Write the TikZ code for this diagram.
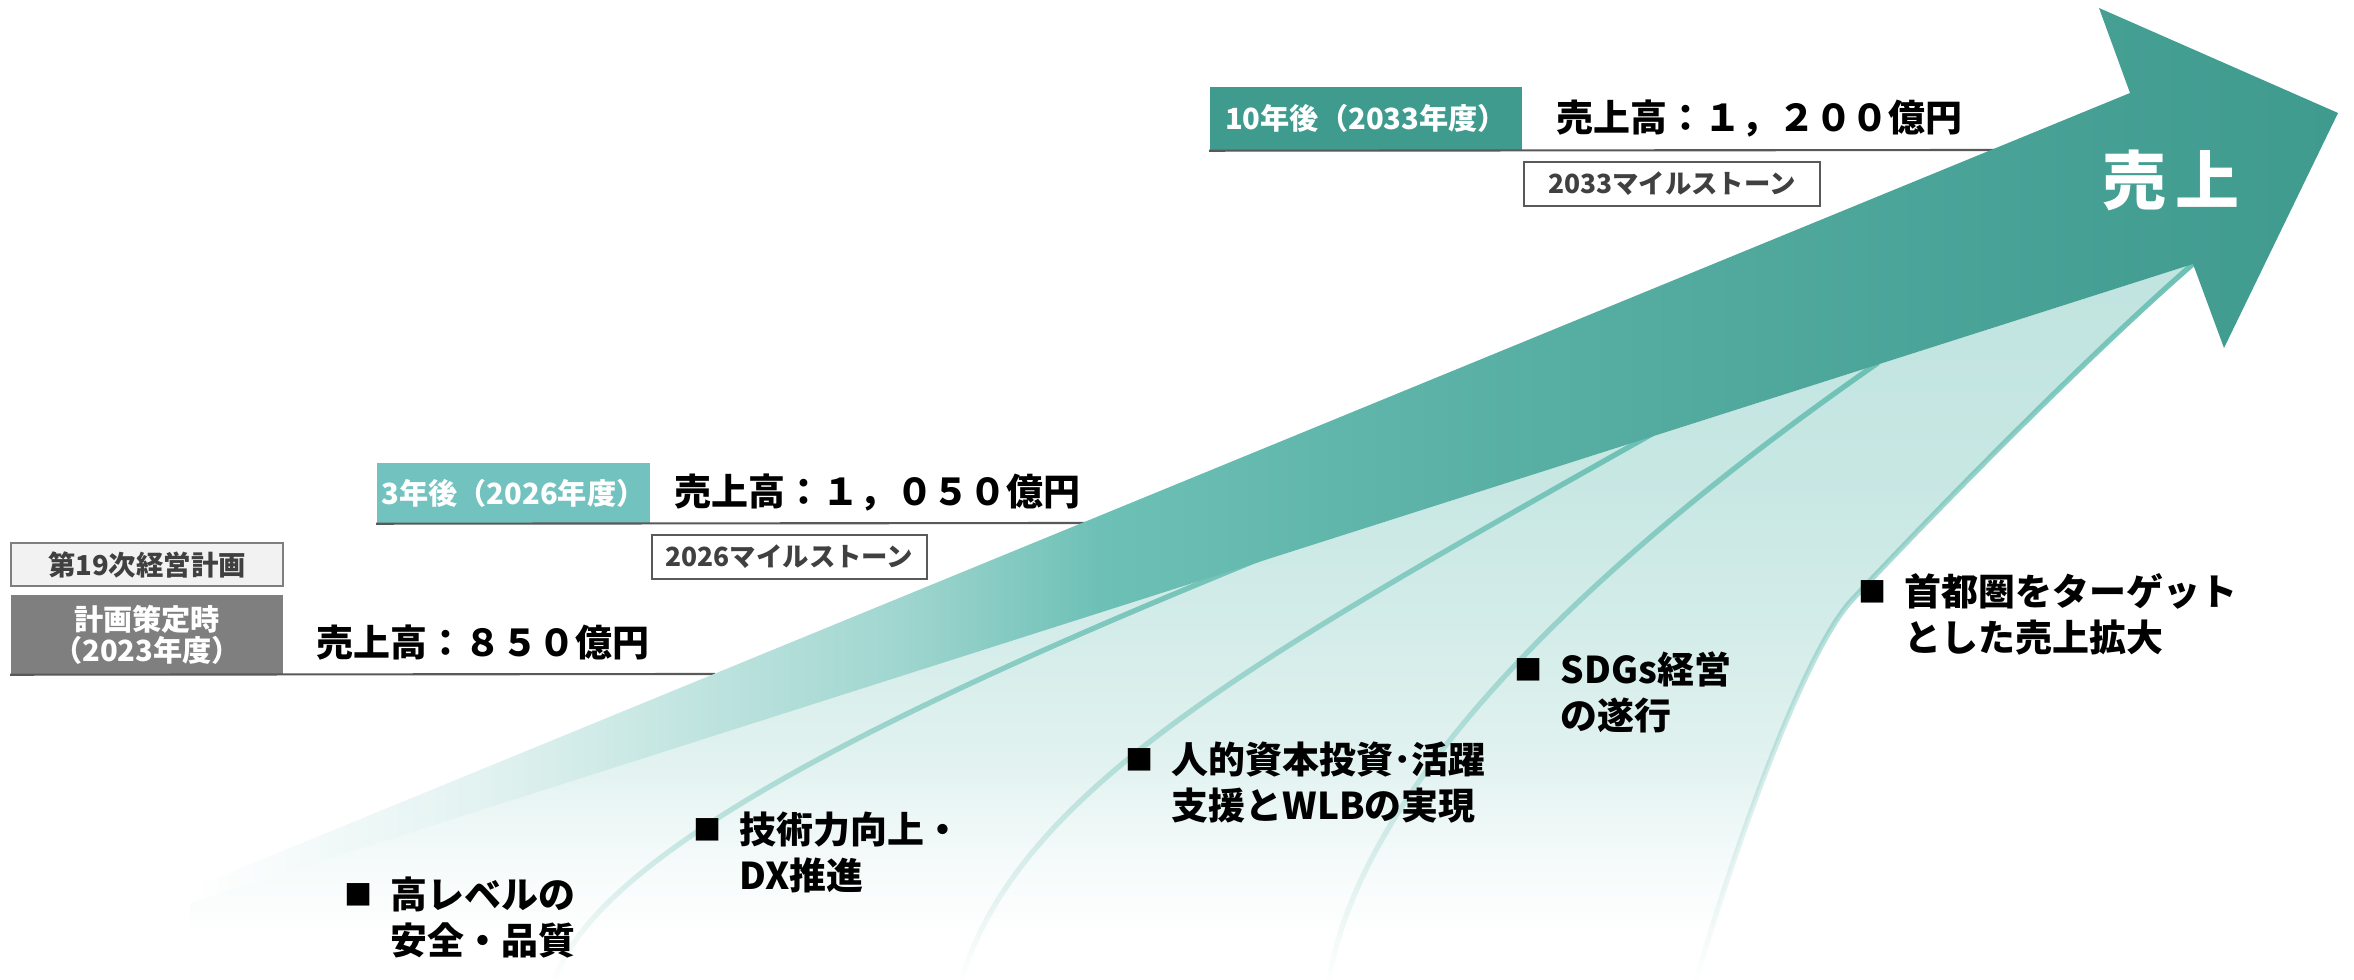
\documentclass[tikz,border=0pt]{standalone}
\usepackage{fontspec}
\setmainfont{Noto Sans CJK JP}
\usetikzlibrary{fadings}

\definecolor{tealdark}{HTML}{409B8F}
\definecolor{tealmid}{HTML}{6DC0B6}
\definecolor{teallight}{HTML}{72C2C0}
\definecolor{fanline}{HTML}{6CC0B5}
\definecolor{rulegray}{HTML}{595959}
\definecolor{textgray}{HTML}{404040}
\definecolor{boxgray}{HTML}{7F7F7F}
\definecolor{boxlight}{HTML}{F2F2F2}

% arrow gets darker towards the head, fan gets lighter towards the bottom
\pgfdeclarehorizontalshading{bandshade}{100bp}{color(0bp)=(white); color(25bp)=(white);
  color(26.5bp)=(white!96!tealmid); color(31.8bp)=(white!80!tealmid); color(35.7bp)=(white!62!tealmid);
  color(41.5bp)=(white!35!tealmid); color(46.2bp)=(tealmid); color(55.5bp)=(tealmid!55!tealdark);
  color(70bp)=(tealdark!90!tealmid); color(75bp)=(tealdark); color(100bp)=(tealdark)}
\pgfdeclareverticalshading{fanshade}{100bp}{color(0bp)=(white); color(28bp)=(white);
  color(34bp)=(white!92!tealmid); color(40bp)=(white!80!tealmid); color(50bp)=(white!70!tealmid);
  color(60bp)=(white!62!tealmid); color(75bp)=(white!57!tealmid); color(100bp)=(white!57!tealmid)}
\tikzfading[name=fadedown, top color=transparent!0, middle color=transparent!15,
  bottom color=transparent!100]

\newcommand{\bsq}{\raisebox{1pt}{\fontsize{8}{8}\selectfont ■}}
\newcommand{\sqitem}[2]{\begin{tabular}[t]{@{}l@{\hspace{0.18cm}}l@{}}\bsq & #1\\ & #2\end{tabular}}

\tikzset{
  yearbox/.style={inner sep=0pt, text=white, font=\fontsize{8.3}{8.8}\selectfont\bfseries},
  planbox/.style={draw=boxgray, line width=0.5pt, fill=boxlight, inner sep=0pt, text=textgray,
    font=\fontsize{7.8}{9}\selectfont\bfseries},
  milebox/.style={draw=rulegray, line width=0.6pt, fill=white, inner sep=0pt, minimum height=0.44cm,
    text=textgray, font=\fontsize{7.5}{9}\selectfont\bfseries},
  valtext/.style={inner sep=0pt, anchor=west, font=\fontsize{10.5}{12.6}\selectfont\bfseries},
  item/.style={inner sep=0pt, anchor=base west, font=\fontsize{10.5}{12.9}\selectfont\bfseries},
  underrule/.style={draw=rulegray, line width=0.6pt},
  fanstroke/.style={draw=fanline, line width=1.5pt, path fading=fadedown},
}

\begin{document}
\begin{tikzpicture}[x=0.01cm, y=-0.01cm]
  \useasboundingbox (0,0) rectangle (2354,980);
  \fill[white] (0,0) rectangle (2354,980);

  % milestones
  \node[planbox, minimum width=2.72cm, minimum height=0.43cm] (plan) at (147,564.5) {第19次経営計画};
  \node[yearbox, fill=boxgray, minimum width=2.72cm, minimum height=0.79cm, align=center] (b2023)
    at (147,634.5) {計画策定時\\（2023年度）};
  \node[yearbox, fill=teallight, minimum width=2.73cm, minimum height=0.60cm] (b2026)
    at (513.5,493) {3年後（2026年度）};
  \node[yearbox, fill=tealdark, minimum width=3.12cm, minimum height=0.63cm] (b2033)
    at (1366,118.5) {10年後（2033年度）};
  \node[milebox, minimum width=2.75cm, anchor=north west] (m2026)
    at ([yshift=-0.1cm]b2026.south east) {2026マイルストーン};
  \node[milebox, minimum width=2.96cm, anchor=north west] (m2033)
    at ([yshift=-0.1cm]b2033.south east) {2033マイルストーン};

  \node[valtext] (v2023) at (316,643) {売上高：８５０億円};
  \node[valtext] (v2026) at ([xshift=0.23cm]b2026.east) {売上高：１，０５０億円};
  \node[valtext] (v2033) at ([xshift=0.33cm]b2033.east) {売上高：１，２００億円};

  \coordinate (r2023) at (715,674);
  \coordinate (r2026) at (1090,523);
  \coordinate (r2033) at (2004,150);
  \draw[underrule] (b2023.south west) -- (r2023);
  \draw[underrule] (b2026.south west) -- (r2026);
  \draw[underrule] (b2033.south west) -- (r2033);

  % light fan below the arrow
  \shade[shading=fanshade] (190,903) -- (2193,264)
    .. controls (2100,345) and (1960,485) .. (1852,600)
    .. controls (1807,648) and (1740,830) .. (1696,980) -- (190,980) -- cycle;
  \draw[fanstroke] (555,980) .. controls (600,840) and (960,680) .. (1291,546);
  \draw[fanstroke] (961,980) .. controls (1020,790) and (1250,660) .. (1652,434);
  \draw[fanstroke] (1329,980) .. controls (1360,790) and (1580,570) .. (1878,363);
  \draw[fanstroke] (1696,980) .. controls (1740,830) and (1807,648) .. (1852,600)
    .. controls (1960,485) and (2100,345) .. (2193,264);

  % main arrow
  \shade[shading=bandshade] (190,903) -- (2193,264) -- (2224,348) -- (2338,113)
    -- (2099,8) -- (2130,93) -- (190,889) -- cycle;
  \node[text=white, font=\fontsize{18.2}{20}\selectfont\bfseries] (sales) at (2171,180) {売\hspace{0.15em}上};

  % measures
  \node[item] (s1) at (344,909) {\sqitem{高レベルの}{安全・品質}};
  \node[item] (s2) at (693,844) {\sqitem{技術力向上・}{DX推進}};
  \node[item] (s3) at (1125,774) {\sqitem{人的資本投資･活躍}{支援とWLBの実現}};
  \node[item] (s4) at (1514,684) {\sqitem{SDGs経営}{の遂行}};
  \node[item] (s5) at (1858,606) {\sqitem{首都圏をターゲット}{とした売上拡大}};
\end{tikzpicture}
\end{document}
